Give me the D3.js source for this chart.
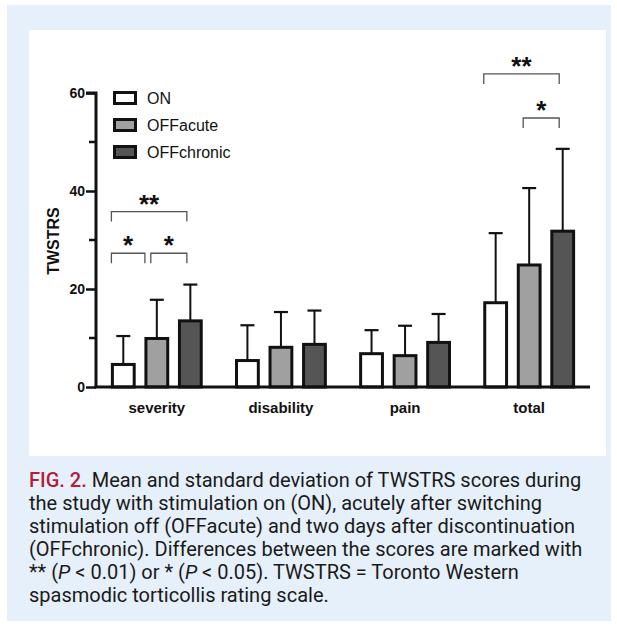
<!DOCTYPE html>
<html>
<head>
<meta charset="utf-8">
<script src="https://cdn.jsdelivr.net/npm/d3@7"></script>
<style>
  body { margin: 0; background: #fff; }
  svg { display: block; }
</style>
</head>
<body>
<svg id="chart" width="617" height="627"></svg>
<script>
// data
var categories = ["severity", "disability", "pain", "total"];
var series = ["ON", "OFFacute", "OFFchronic"];
var means = {
  ON:         [4.6, 5.4, 6.8, 17.2],
  OFFacute:   [9.9, 8.1, 6.4, 24.9],
  OFFchronic: [13.5, 8.7, 9.1, 31.8]
};
var sds = {
  ON:         [5.8, 7.2, 4.8, 14.2],
  OFFacute:   [7.9, 7.2, 6.1, 15.7],
  OFFchronic: [7.4, 6.9, 5.8, 16.8]
};
var yTicks = [0, 20, 40, 60];
var yMinor = [10, 30, 50];
// significance: category, from, to, level (TWSTRS units), label
var sig = [
  { cat: "severity", from: "ON", to: "OFFchronic", level: 35.8, label: "**" },
  { cat: "severity", from: "ON", to: "OFFacute", level: 27.3, label: "*" },
  { cat: "severity", from: "OFFacute", to: "OFFchronic", level: 27.3, label: "*" },
  { cat: "total", from: "ON", to: "OFFchronic", level: 63.9, label: "**" },
  { cat: "total", from: "OFFacute", to: "OFFchronic", level: 54.9, label: "*" }
];
var captionLines = [
  "Mean and standard deviation of TWSTRS scores during",
  "the study with stimulation on (ON), acutely after switching",
  "stimulation off (OFFacute) and two days after discontinuation",
  "(OFFchronic). Differences between the scores are marked with",
  null,
  "spasmodic torticollis rating scale."
];

var fills = { ON: "#ffffff", OFFacute: "#a0a0a0", OFFchronic: "#555555" };

var svg = d3.select("#chart");

// panels
svg.append("rect").attr("x", 7).attr("y", 5).attr("width", 604).attr("height", 616)
  .attr("fill", "#e6f0fa");
svg.append("rect").attr("x", 29).attr("y", 30).attr("width", 577).attr("height", 426)
  .attr("fill", "#ffffff");

var x = d3.scaleBand().domain(categories).range([96, 590])
  .paddingInner(0.26).paddingOuter(0.12);
var xs = d3.scaleBand().domain(series).range([0, x.bandwidth()]).paddingInner(0.26);
var y = d3.scaleLinear().domain([0, 60]).range([387, 93]);

var font = "'Liberation Sans', Arial, sans-serif";

// bars
var rows = [];
categories.forEach(function (c, i) {
  series.forEach(function (s) {
    rows.push({ cat: c, s: s, m: means[s][i], sd: sds[s][i] });
  });
});
var cx = function (c, s) { return x(c) + xs(s) + xs.bandwidth() / 2; };

var g = svg.append("g");
// error bars
g.selectAll("line.err").data(rows).enter().append("line")
  .attr("x1", function (d) { return cx(d.cat, d.s); })
  .attr("x2", function (d) { return cx(d.cat, d.s); })
  .attr("y1", function (d) { return y(d.m); })
  .attr("y2", function (d) { return y(d.m + d.sd); })
  .attr("stroke", "#111").attr("stroke-width", 2);
g.selectAll("line.cap").data(rows).enter().append("line")
  .attr("x1", function (d) { return cx(d.cat, d.s) - 7; })
  .attr("x2", function (d) { return cx(d.cat, d.s) + 7; })
  .attr("y1", function (d) { return y(d.m + d.sd); })
  .attr("y2", function (d) { return y(d.m + d.sd); })
  .attr("stroke", "#111").attr("stroke-width", 2.2);
g.selectAll("rect.bar").data(rows).enter().append("rect")
  .attr("x", function (d) { return x(d.cat) + xs(d.s) + 1.5; })
  .attr("width", xs.bandwidth() - 3)
  .attr("y", function (d) { return y(d.m); })
  .attr("height", function (d) { return y(0) - y(d.m); })
  .attr("fill", function (d) { return fills[d.s]; })
  .attr("stroke", "#111").attr("stroke-width", 3);

// axes
var yAxis = d3.axisLeft(y).tickValues(yTicks).tickSize(10).tickPadding(1);
var ya = svg.append("g").attr("transform", "translate(96,0)").call(yAxis);
ya.select(".domain").attr("stroke", "#111").attr("stroke-width", 3)
  .attr("d", "M-10," + y(60) + "H0V" + y(0));
ya.selectAll(".tick line").attr("stroke", "#111").attr("stroke-width", 2.5);
ya.selectAll(".tick text").attr("font-family", font).attr("font-size", 14)
  .attr("font-weight", "bold").attr("fill", "#111");
ya.selectAll("line.minor").data(yMinor).enter().append("line")
  .attr("x1", -7).attr("x2", 0)
  .attr("y1", function (d) { return y(d); }).attr("y2", function (d) { return y(d); })
  .attr("stroke", "#111").attr("stroke-width", 2.5);

var xAxis = d3.axisBottom(x).tickSize(0).tickPadding(15);
var xa = svg.append("g").attr("transform", "translate(0," + y(0) + ")").call(xAxis);
xa.select(".domain").attr("stroke", "#111").attr("stroke-width", 3)
  .attr("d", "M94.5,0H590");
xa.selectAll(".tick text").attr("font-family", font).attr("font-size", 15)
  .attr("font-weight", "bold").attr("fill", "#111");

svg.append("text").attr("transform", "translate(59,241) rotate(-90)")
  .attr("text-anchor", "middle").attr("font-family", font).attr("font-size", 16)
  .attr("font-weight", "bold").attr("fill", "#111").text("TWSTRS");

// legend
var leg = svg.append("g").selectAll("g").data(series).enter().append("g")
  .attr("transform", function (d, i) { return "translate(113," + (98 + i * 27) + ")"; });
leg.append("rect").attr("x", 1.5).attr("y", -5.5).attr("width", 21).attr("height", 11)
  .attr("fill", function (d) { return fills[d]; }).attr("stroke", "#111").attr("stroke-width", 3);
leg.append("text").attr("x", 34).attr("y", 6).attr("font-family", font)
  .attr("font-size", 16).attr("fill", "#111").text(function (d) { return d; });

// significance brackets
var last = series[series.length - 1];
var bx1 = function (d) {
  return d.from === series[0] ? x(d.cat) + xs(d.from) + 0.5 : cx(d.cat, d.from) - 6;
};
var bx2 = function (d) {
  return d.to === last ? cx(d.cat, d.to) - 3.5 : x(d.cat) + xs(d.to) + 0.5;
};
var sg = svg.append("g").selectAll("g").data(sig).enter().append("g");
sg.append("path")
  .attr("d", function (d) {
    var yy = y(d.level);
    return "M" + bx1(d) + "," + (yy + 10) + "V" + yy + "H" + bx2(d) + "V" + (yy + 10);
  })
  .attr("fill", "none").attr("stroke", "#555").attr("stroke-width", 1.3);
sg.append("text")
  .attr("x", function (d) { return (bx1(d) + bx2(d)) / 2; })
  .attr("y", function (d) { return y(d.level) + 1; })
  .attr("text-anchor", "middle").attr("font-family", font).attr("font-size", 26)
  .attr("font-weight", "bold").attr("fill", "#111").text(function (d) { return d.label; });

// caption
var cap = svg.append("text").attr("font-family", "Roboto, 'Noto Sans', sans-serif")
  .attr("font-size", 20).attr("fill", "#1a1a1a");
captionLines.forEach(function (t, i) {
  var tl = cap.append("tspan").attr("x", 29).attr("y", 487 + i * 23);
  if (i === 0) {
    tl.append("tspan").attr("fill", "#b0203a").attr("font-weight", 500).text("FIG. 2. ");
    tl.append("tspan").text(t);
  } else if (t === null) {
    tl.append("tspan").text("** (");
    tl.append("tspan").attr("font-style", "italic").text("P");
    tl.append("tspan").text(" < 0.01) or * (");
    tl.append("tspan").attr("font-style", "italic").text("P");
    tl.append("tspan").text(" < 0.05). TWSTRS = Toronto Western");
  } else {
    tl.text(t);
  }
});
</script>
</body>
</html>
